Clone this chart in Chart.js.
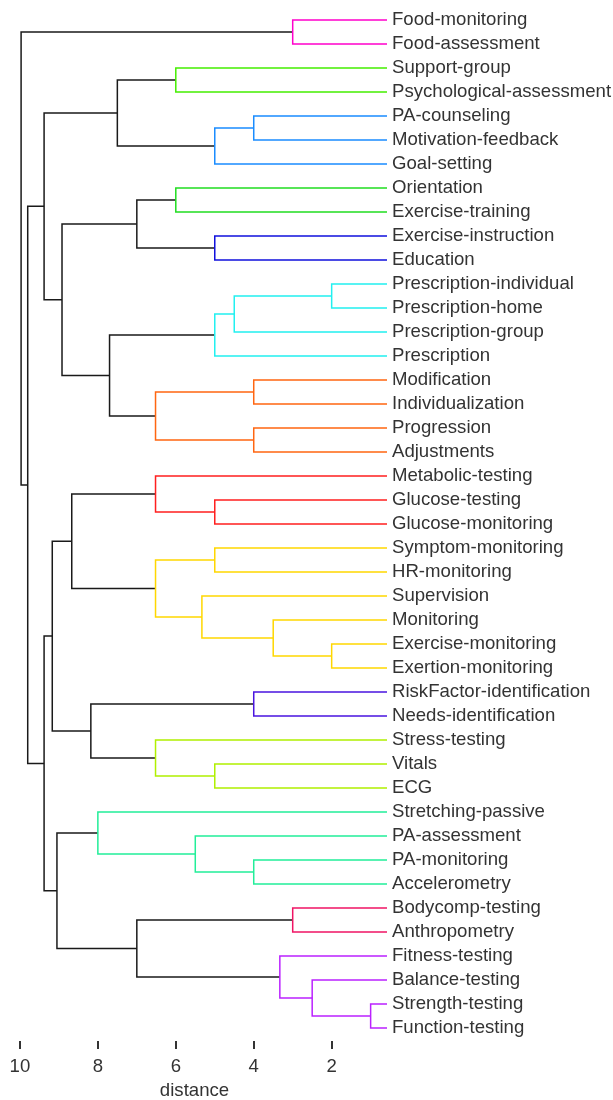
<!DOCTYPE html>
<html><head><meta charset="utf-8">
<script src="https://cdn.jsdelivr.net/npm/chart.js@4/dist/chart.umd.min.js"></script>
<style>html,body{margin:0;padding:0;background:#fff}#wrap{width:613px;height:1100px;position:relative}</style>
</head><body><div id="wrap"><canvas id="c"></canvas></div>
<script>
// Leaves, top to bottom
const LEAVES = ["Food-monitoring","Food-assessment","Support-group","Psychological-assessment","PA-counseling","Motivation-feedback","Goal-setting","Orientation","Exercise-training","Exercise-instruction","Education","Prescription-individual","Prescription-home","Prescription-group","Prescription","Modification","Individualization","Progression","Adjustments","Metabolic-testing","Glucose-testing","Glucose-monitoring","Symptom-monitoring","HR-monitoring","Supervision","Monitoring","Exercise-monitoring","Exertion-monitoring","RiskFactor-identification","Needs-identification","Stress-testing","Vitals","ECG","Stretching-passive","PA-assessment","PA-monitoring","Accelerometry","Bodycomp-testing","Anthropometry","Fitness-testing","Balance-testing","Strength-testing","Function-testing"];
// Linkage: merge k creates node 43+k from MERGE_LEFT[k] and MERGE_RIGHT[k] at MERGE_HEIGHT[k]
const MERGE_LEFT  = [0,2,4,45,44,7,9,48,11,51,52,15,17,54,53,50,47,20,19,22,26,25,24,62,61,28,31,30,68,67,35,34,33,37,41,40,39,76,75,72,59,43];
const MERGE_RIGHT = [1,3,5,6,46,8,10,49,12,13,14,16,18,55,56,57,58,21,60,23,27,63,64,65,66,29,32,69,70,71,36,73,74,38,42,77,78,79,80,81,82,83];
const MERGE_HEIGHT = [3.0,6.0,4.0,5.0,7.5,6.0,5.0,7.0,2.0,4.5,5.0,4.0,4.0,6.52,7.7,8.92,9.38,5.0,6.52,5.0,2.0,3.5,5.33,6.52,8.67,4.0,5.0,6.52,8.18,9.17,4.0,5.5,8.0,3.0,1.0,2.5,3.33,7.0,9.05,9.38,9.8,9.97];
const X_TICKS = [10,8,6,4,2];

// Styles
const K = '#1a1a1a';
const LINK_COLORS = ['#ff00cc','#44ee00','#1a8cff','#1a8cff',K,'#20dd20','#1010dd',K,'#22f0f0','#22f0f0','#22f0f0','#ff6611','#ff6611','#ff6611',K,K,K,'#ff1f1f','#ff1f1f','#ffd700','#ffd700','#ffd700','#ffd700','#ffd700',K,'#4a14e0','#b0f000','#b0f000',K,K,'#22ee99','#22ee99','#22ee99','#f01464','#bb22ff','#bb22ff','#bb22ff',K,K,K,K,K];

const nodeY = LEAVES.map((_, i) => i);
const nodeH = LEAVES.map(() => 0);
MERGE_HEIGHT.forEach((h, k) => {
  nodeY.push((nodeY[MERGE_LEFT[k]] + nodeY[MERGE_RIGHT[k]]) / 2);
  nodeH.push(h);
});
const datasets = MERGE_HEIGHT.map((h, k) => {
  const a = MERGE_LEFT[k], b = MERGE_RIGHT[k];
  return {
    data: [{x: nodeH[a], y: nodeY[a]}, {x: h, y: nodeY[a]}, {x: h, y: nodeY[b]}, {x: nodeH[b], y: nodeY[b]}],
    borderColor: LINK_COLORS[k], backgroundColor: LINK_COLORS[k],
    borderWidth: 1.5, pointRadius: 0, showLine: true, fill: false, tension: 0
  };
});

const FONT = {family: "'Liberation Sans', Arial, sans-serif", size: 18.6};
const noPad = s => { s.paddingTop = 0; s.paddingBottom = 0; s.paddingLeft = 0; s.paddingRight = 0; };
new Chart(document.getElementById('c'), {
  type: 'scatter',
  data: {datasets},
  options: {
    responsive: true, maintainAspectRatio: false, animation: false,
    layout: {padding: {left: 2, right: 0, top: 0, bottom: 0}},
    plugins: {legend: {display: false}, tooltip: {enabled: false}},
    scales: {
      x: {
        type: 'linear', reverse: true, min: 0.58, max: 10.46,
        afterBuildTicks: s => { s.ticks = X_TICKS.map(v => ({value: v})); },
        afterFit: s => { s.height = 59; noPad(s); },
        border: {display: false},
        grid: {display: true, drawOnChartArea: false, drawTicks: true, tickLength: 8, color: '#333', lineWidth: 2},
        ticks: {font: FONT, color: '#333', padding: 7, maxRotation: 0, autoSkip: false},
        title: {display: true, text: 'distance', font: {...FONT, lineHeight: 1}, color: '#333', padding: {top: 0, bottom: 0}}
      },
      y: {
        type: 'linear', position: 'right', reverse: true, min: -0.8333, max: 42.5417,
        afterBuildTicks: s => { s.ticks = LEAVES.map((_, i) => ({value: i})); },
        afterFit: s => { s.width = 226; noPad(s); },
        border: {display: false},
        grid: {display: false, drawTicks: false},
        ticks: {font: FONT, color: '#333', padding: 5, autoSkip: false, callback: v => LEAVES[v]}
      }
    }
  }
});
</script></body></html>
